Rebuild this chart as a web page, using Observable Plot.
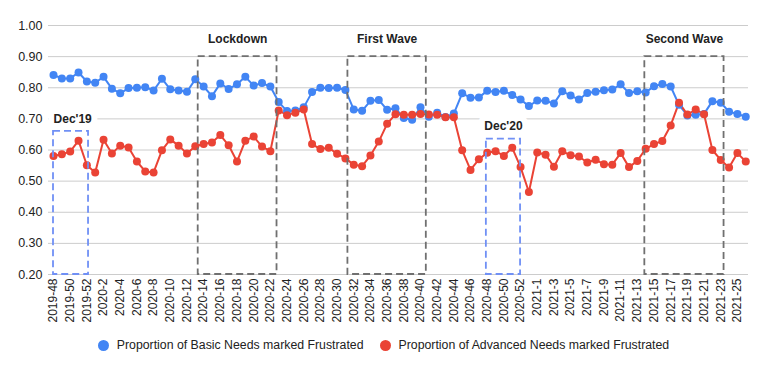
<!DOCTYPE html>
<html>
<head>
<meta charset="utf-8">
<script src="https://cdn.jsdelivr.net/npm/d3@7"></script>
<script src="https://cdn.jsdelivr.net/npm/@observablehq/plot@0.6"></script>
<style>
  html, body { margin: 0; padding: 0; background: #fff; }
  body { width: 767px; height: 371px; overflow: hidden; font-family: Arial, "Liberation Sans", sans-serif; }
  #legend { height: 30px; display: flex; justify-content: center; align-items: center; font-size: 12.3px; color: #222; }
  #legend .item { display: flex; align-items: center; margin: 0 8px; }
  #legend .sw { width: 11px; height: 11px; border-radius: 50%; margin-right: 8px; }
</style>
</head>
<body>
<div id="chart"></div>
<div id="legend"></div>
<script>
const weeks = [
  "2019-48","2019-49","2019-50","2019-51","2019-52",
  "2020-1","2020-2","2020-3","2020-4","2020-5","2020-6","2020-7","2020-8","2020-9","2020-10",
  "2020-11","2020-12","2020-13","2020-14","2020-15","2020-16","2020-17","2020-18","2020-19","2020-20",
  "2020-21","2020-22","2020-23","2020-24","2020-25","2020-26","2020-27","2020-28","2020-29","2020-30",
  "2020-31","2020-32","2020-33","2020-34","2020-35","2020-36","2020-37","2020-38","2020-39","2020-40",
  "2020-41","2020-42","2020-43","2020-44","2020-45","2020-46","2020-47","2020-48","2020-49","2020-50",
  "2020-51","2020-52","2020-53",
  "2021-1","2021-2","2021-3","2021-4","2021-5","2021-6","2021-7","2021-8","2021-9","2021-10",
  "2021-11","2021-12","2021-13","2021-14","2021-15","2021-16","2021-17","2021-18","2021-19","2021-20",
  "2021-21","2021-22","2021-23","2021-24","2021-25","2021-26"
];

const basicFrustrated = [
  0.841,0.830,0.830,0.849,0.820,0.816,0.835,0.797,0.782,0.799,
  0.800,0.802,0.791,0.829,0.795,0.791,0.787,0.827,0.804,0.773,
  0.814,0.796,0.811,0.835,0.807,0.815,0.804,0.754,0.725,0.727,
  0.737,0.786,0.800,0.799,0.800,0.793,0.730,0.726,0.758,0.761,
  0.729,0.734,0.703,0.697,0.737,0.707,0.720,0.706,0.717,0.782,
  0.768,0.769,0.790,0.786,0.790,0.777,0.762,0.741,0.759,0.758,
  0.749,0.789,0.775,0.762,0.783,0.787,0.792,0.794,0.811,0.783,
  0.789,0.785,0.805,0.812,0.804,0.745,0.711,0.713,0.716,0.757,
  0.752,0.723,0.716,0.707
];

const advancedFrustrated = [
  0.581,0.586,0.595,0.630,0.551,0.528,0.633,0.589,0.614,0.608,
  0.563,0.531,0.528,0.599,0.634,0.614,0.589,0.612,0.619,0.624,
  0.648,0.615,0.563,0.630,0.643,0.611,0.596,0.727,0.712,0.720,
  0.730,0.619,0.603,0.607,0.588,0.573,0.553,0.548,0.582,0.627,
  0.684,0.715,0.713,0.713,0.716,0.714,0.713,0.705,0.705,0.599,
  0.536,0.570,0.591,0.596,0.581,0.607,0.545,0.465,0.592,0.585,
  0.546,0.596,0.583,0.579,0.560,0.569,0.554,0.553,0.590,0.545,
  0.565,0.604,0.619,0.629,0.679,0.752,0.714,0.730,0.715,0.600,
  0.568,0.544,0.590,0.563
];

const seriesNames = ["Proportion of Basic Needs marked Frustrated", "Proportion of Advanced Needs marked Frustrated"];
const seriesColors = ["#4285F4", "#EA4335"];

// Highlighted periods (week-index ranges and value ranges)
const periodLabels = ["Dec'19", "Lockdown", "First Wave", "Dec'20", "Second Wave"];
const periodStart  = [0, 17.35, 35.3, 51.9, 70.9];
const periodEnd    = [4.2, 26.8, 44.7, 56.0, 80.4];
const periodTop    = [0.66, 0.90, 0.90, 0.635, 0.90];
const periodBottom = [0.20, 0.20, 0.20, 0.20, 0.20];
const periodLabelX = [2.3, 22.08, 40.0, 53.95, 75.65];
const periodLabelY = [0.70, 0.956, 0.956, 0.676, 0.956];
const periodKind   = ["dec", "wave", "wave", "dec", "wave"];

const yTicks = [0.2, 0.3, 0.4, 0.5, 0.6, 0.7, 0.8, 0.9, 1.0];

const rows = [];
weeks.forEach((w, i) => {
  rows.push({i, week: w, series: seriesNames[0], value: basicFrustrated[i]});
});
weeks.forEach((w, i) => {
  rows.push({i, week: w, series: seriesNames[1], value: advancedFrustrated[i]});
});
const periods = periodLabels.map((label, k) => ({
  label, x1: periodStart[k], x2: periodEnd[k], y1: periodBottom[k], y2: periodTop[k],
  ly: periodLabelY[k], kind: periodKind[k], lx: periodLabelX[k]
}));

const evenIdx = weeks.map((w, i) => i).filter(i => i % 2 === 0);

const chart = Plot.plot({
  width: 767,
  height: 330,
  marginLeft: 48,
  marginRight: 19,
  marginTop: 25,
  marginBottom: 56,
  style: { fontFamily: "Arial, 'Liberation Sans', sans-serif", fontSize: "12px", color: "#222", background: "#fff" },
  x: { domain: [-0.6, 83.33], axis: null },
  y: { domain: [0.2, 1.0], axis: null },
  color: { domain: seriesNames, range: seriesColors },
  marks: [
    Plot.gridY(yTicks, { stroke: "#cccccc", strokeOpacity: 1, strokeWidth: 1 }),
    Plot.axisY(yTicks, { tickSize: 0, tickPadding: 6, tickFormat: d3.format(".2f"), fill: "#222", fontSize: 12.5 }),
    Plot.axisX(evenIdx, { tickSize: 0, tickPadding: 4, tickRotate: -90, tickFormat: d => weeks[d], fill: "#222", fontSize: 12 }),
    Plot.line(rows, { x: "i", y: "value", z: "series", stroke: "series", strokeWidth: 2 }),
    Plot.dot(rows, { x: "i", y: "value", fill: "series", r: 4 }),
    Plot.rect(periods, {
      x1: "x1", x2: "x2", y1: "y1", y2: "y2", fill: "none",
      stroke: d => d.kind === "dec" ? "#7090f5" : "#707070",
      strokeWidth: 1.8, strokeDasharray: "7,4"
    }),
    Plot.text(periods, {
      x: "lx", y: "ly", text: "label", fontWeight: "bold", fontSize: 12, fill: "#222",
      stroke: "white", strokeWidth: 12
    })
  ]
});
document.getElementById("chart").appendChild(chart);

const legend = document.getElementById("legend");
seriesNames.forEach((name, k) => {
  const item = document.createElement("div");
  item.className = "item";
  const sw = document.createElement("span");
  sw.className = "sw";
  sw.style.background = seriesColors[k];
  const tx = document.createElement("span");
  tx.textContent = name;
  item.appendChild(sw);
  item.appendChild(tx);
  legend.appendChild(item);
});
</script>
</body>
</html>
